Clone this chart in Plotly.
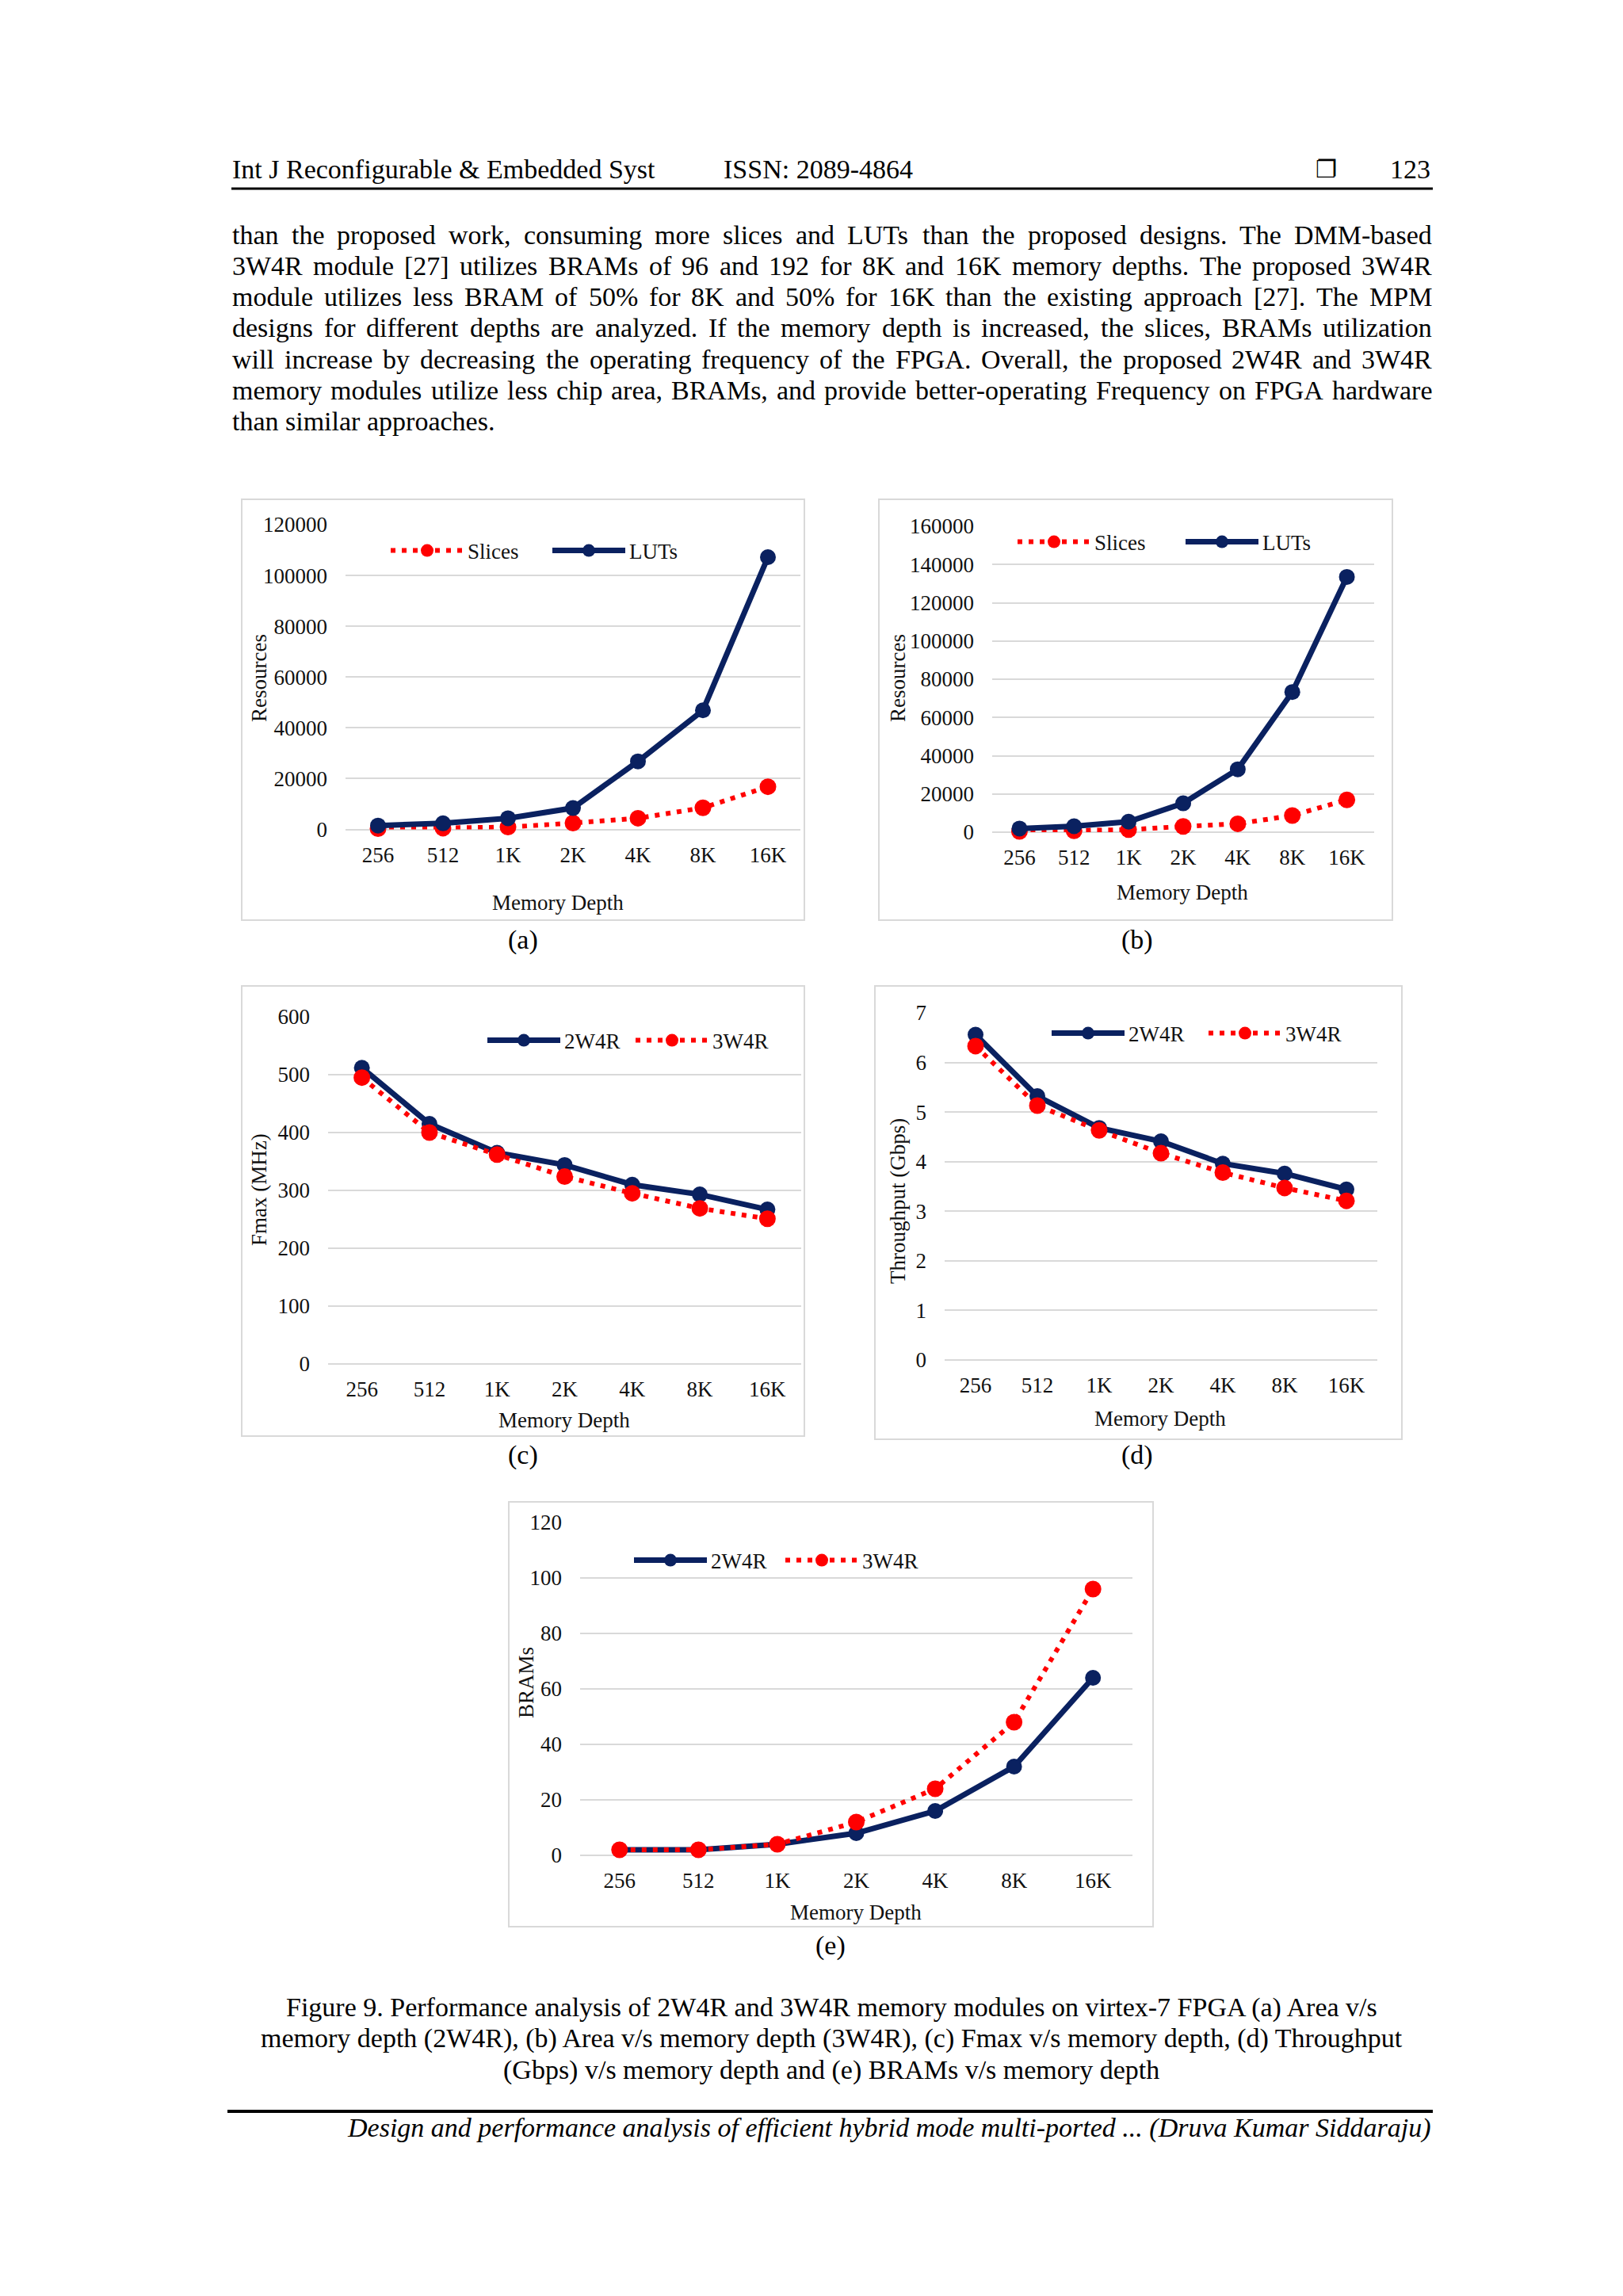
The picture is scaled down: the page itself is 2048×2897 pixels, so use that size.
import plotly.graph_objects as go

# ---------------- data ----------------
depths = ["256", "512", "1K", "2K", "4K", "8K", "16K"]

a_slices = [300, 500, 900, 2500, 4400, 8500, 16800]
a_luts = [1500, 2400, 4400, 8400, 26800, 46900, 107200]

b_slices = [400, 700, 1300, 3000, 4400, 8700, 16900]
b_luts = [1900, 3100, 5500, 15100, 32900, 73300, 133500]

c_2w4r = [512, 415, 365, 344, 310, 293, 267]
c_3w4r = [495, 400, 362, 324, 295, 269, 251]

d_2w4r = [6.56, 5.32, 4.68, 4.41, 3.96, 3.76, 3.44]
d_3w4r = [6.33, 5.13, 4.63, 4.17, 3.78, 3.47, 3.21]

e_2w4r = [2, 2, 4, 8, 16, 32, 64]
e_3w4r = [2, 2, 4, 12, 24, 48, 96]

body_lines = [
    "than the proposed work, consuming more slices and LUTs than the proposed designs. The DMM-based",
    "3W4R module [27] utilizes BRAMs of 96 and 192 for 8K and 16K memory depths. The proposed 3W4R",
    "module utilizes less BRAM of 50% for 8K and 50% for 16K than the existing approach [27]. The MPM",
    "designs for different depths are analyzed. If the memory depth is increased, the slices, BRAMs utilization",
    "will increase by decreasing the operating frequency of the FPGA. Overall, the proposed 2W4R and 3W4R",
    "memory modules utilize less chip area, BRAMs, and provide better-operating Frequency on FPGA hardware",
    "than similar approaches.",
]
caption_lines = [
    "Figure 9. Performance analysis of 2W4R and 3W4R memory modules on virtex-7 FPGA (a) Area v/s",
    "memory depth (2W4R), (b) Area v/s memory depth (3W4R), (c) Fmax v/s memory depth, (d) Throughput",
    "(Gbps) v/s memory depth and (e) BRAMs v/s memory depth",
]
header_left = "Int J Reconfigurable & Embedded Syst"
header_issn = "ISSN: 2089-4864"
header_page = "123"
footer_text = "Design and performance analysis of efficient hybrid mode multi-ported ... (Druva Kumar Siddaraju)"

# ---------------- helpers ----------------
W, H = 2048, 2897
SERIF = "Liberation Serif"
NAVY = "#0a2160"
RED = "#ff0000"
GRID = "#d9d9d9"
TXT = "#111111"


def X(px):
    return px / W


def Y(py):
    return 1 - py / H


TW = {" ": 250, "!": 333, "%": 833, "&": 778, "(": 333, ")": 333, ",": 250, "-": 333, ".": 250,
      "/": 278, ":": 278, "[": 333, "]": 333,
      "A": 722, "B": 667, "C": 667, "D": 722, "E": 611, "F": 556, "G": 722, "H": 722, "I": 333,
      "J": 389, "K": 722, "L": 611, "M": 889, "N": 722, "O": 722, "P": 556, "Q": 722, "R": 667,
      "S": 556, "T": 611, "U": 722, "V": 722, "W": 944, "X": 722, "Y": 722, "Z": 611,
      "a": 444, "b": 500, "c": 444, "d": 500, "e": 444, "f": 333, "g": 500, "h": 500, "i": 278,
      "j": 278, "k": 500, "l": 278, "m": 778, "n": 500, "o": 500, "p": 500, "q": 500, "r": 333,
      "s": 389, "t": 278, "u": 500, "v": 500, "w": 722, "x": 500, "y": 500, "z": 444}


def text_width(s, size):
    return sum(TW.get(c, 500) for c in s) / 1000.0 * size


fig = go.Figure()


def txt(text, x, y, size=34, xanchor="left", angle=0, family=SERIF, color="black"):
    fig.add_annotation(text=text, x=X(x), y=Y(y), xref="paper", yref="paper",
                       xanchor=xanchor, yanchor="middle", showarrow=False, textangle=angle,
                       borderpad=0, font=dict(family=family, size=size, color=color))


def justified(line, y, x0, x1, size, justify=True):
    words = line.split(" ")
    widths = [text_width(w, size) for w in words]
    if justify and len(words) > 1:
        gap = (x1 - x0 - sum(widths)) / (len(words) - 1)
    else:
        gap = text_width(" ", size)
    x = x0
    for w, wd in zip(words, widths):
        txt(w, x, y, size=size)
        x += wd + gap


# ---------------- panels ----------------
panels = [
    dict(box=(305, 630, 1015, 1161), dom=(436, 1010, 662, 1046.5), ymax=120000, dtick=20000,
         series=[("Slices", a_slices, "red"), ("LUTs", a_luts, "navy")],
         ytitle="Resources", ytx=327, yty=856, xtx=704, xty=1139,
         leg=(494, 695, 97), cap="(a)", capx=660, capy=1186),
    dict(box=(1109, 630, 1757, 1161), dom=(1252, 1734, 664, 1050), ymax=160000, dtick=20000,
         series=[("Slices", b_slices, "red"), ("LUTs", b_luts, "navy")],
         ytitle="Resources", ytx=1133, yty=856, xtx=1492, xty=1126,
         leg=(1285, 684, 105), cap="(b)", capx=1435, capy=1186),
    dict(box=(305, 1244, 1015, 1812), dom=(414, 1011, 1283, 1721), ymax=600, dtick=100,
         series=[("2W4R", c_2w4r, "navy"), ("3W4R", c_3w4r, "red")],
         ytitle="Fmax (MHz)", ytx=327, yty=1501, xtx=712, xty=1792,
         leg=(616, 1313, 80), cap="(c)", capx=660, capy=1836),
    dict(box=(1104, 1244, 1769, 1816), dom=(1192, 1738, 1278, 1716), ymax=7, dtick=1,
         series=[("2W4R", d_2w4r, "navy"), ("3W4R", d_3w4r, "red")],
         ytitle="Throughput (Gbps)", ytx=1133, yty=1516, xtx=1464, xty=1790,
         leg=(1328, 1304, 91), cap="(d)", capx=1435, capy=1836),
    dict(box=(642, 1895, 1455, 2431), dom=(732, 1429, 1921, 2341), ymax=120, dtick=20,
         series=[("2W4R", e_2w4r, "navy"), ("3W4R", e_3w4r, "red")],
         ytitle="BRAMs", ytx=664, yty=2123, xtx=1080, xty=2413,
         leg=(801, 1969, 84), cap="(e)", capx=1048, capy=2455),
]

layout_axes = {}
for i, p in enumerate(panels, start=1):
    sfx = "" if i == 1 else str(i)
    legname = "legend" if i == 1 else "legend%d" % i
    bx0, by0, bx1, by1 = p["box"]
    fig.add_shape(type="rect", xref="paper", yref="paper", x0=X(bx0), x1=X(bx1), y0=Y(by1), y1=Y(by0),
                  line=dict(color=GRID, width=2), fillcolor="white", layer="below")
    for name, vals, kind in p["series"]:
        if kind == "navy":
            line = dict(color=NAVY, width=7)
            marker = dict(color=NAVY, size=20)
        else:
            line = dict(color=RED, width=6, dash="6px,8px")
            marker = dict(color=RED, size=21)
        fig.add_trace(go.Scatter(x=depths, y=vals, name=name, mode="lines+markers",
                                 line=line, marker=marker, cliponaxis=False,
                                 xaxis="x" + sfx, yaxis="y" + sfx, legend=legname))
    dx0, dx1, dyt, dyb = p["dom"]
    layout_axes["xaxis" + sfx] = dict(
        domain=[X(dx0), X(dx1)], anchor="y" + sfx, type="category", range=[-0.5, 6.5],
        showgrid=False, showline=False, zeroline=False, ticks="", automargin=False,
        tickfont=dict(family=SERIF, size=27, color=TXT), ticklabelstandoff=13, fixedrange=True)
    layout_axes["yaxis" + sfx] = dict(
        domain=[Y(dyb), Y(dyt)], anchor="x" + sfx, range=[0, p["ymax"]], dtick=p["dtick"],
        tick0=0, tickformat="d", showgrid=True, gridcolor=GRID, gridwidth=2, automargin=False,
        zeroline=True, zerolinecolor=GRID, zerolinewidth=2, showline=False, ticks="",
        tickfont=dict(family=SERIF, size=27, color=TXT), ticklabelstandoff=22, fixedrange=True)
    lx, ly, ew = p["leg"]
    layout_axes[legname] = dict(
        x=X(lx - 6), y=Y(ly), xanchor="left", yanchor="middle", orientation="h",
        font=dict(family=SERIF, size=27, color=TXT), itemwidth=92, entrywidth=ew,
        entrywidthmode="pixels", bgcolor="rgba(0,0,0,0)", borderwidth=0, tracegroupgap=0)
    txt(p["ytitle"], p["ytx"], p["yty"], size=27, xanchor="center", angle=-90, color=TXT)
    txt("Memory Depth", p["xtx"], p["xty"], size=27, xanchor="center", color=TXT)
    txt(p["cap"], p["capx"], p["capy"], size=34, xanchor="center")

# ---------------- page text ----------------
txt(header_left, 292, 214, size=34)
txt(header_issn, 912, 214, size=34)
txt("\u2750", 1673, 214, size=30, xanchor="center", family="DejaVu Sans")
txt(header_page, 1806, 214, size=34, xanchor="right")
fig.add_shape(type="line", xref="paper", yref="paper", x0=X(292), x1=X(1808), y0=Y(238), y1=Y(238),
              line=dict(color="black", width=3))

for k, line in enumerate(body_lines):
    y = 296 + 39.3 * k
    justified(line, y, 292, 1806, 34, justify=(k < len(body_lines) - 1))

cap_y = [2533, 2572, 2612]
for line, y in zip(caption_lines, cap_y):
    txt(line, 1049, y, size=34, xanchor="center")

fig.add_shape(type="line", xref="paper", yref="paper", x0=X(287), x1=X(1808), y0=Y(2664), y1=Y(2664),
              line=dict(color="black", width=4))
txt("<i>" + footer_text + "</i>", 1806, 2685, size=34, xanchor="right")

fig.update_layout(
    width=W, height=H, autosize=False,
    margin=dict(l=0, r=0, t=0, b=0, pad=0, autoexpand=False),
    paper_bgcolor="white", plot_bgcolor="rgba(0,0,0,0)",
    showlegend=True, hovermode=False,
    **layout_axes,
)

fig.write_html("out.html", config={"displayModeBar": False},
               post_script="document.body.style.margin='0';document.body.style.overflow='hidden';")
